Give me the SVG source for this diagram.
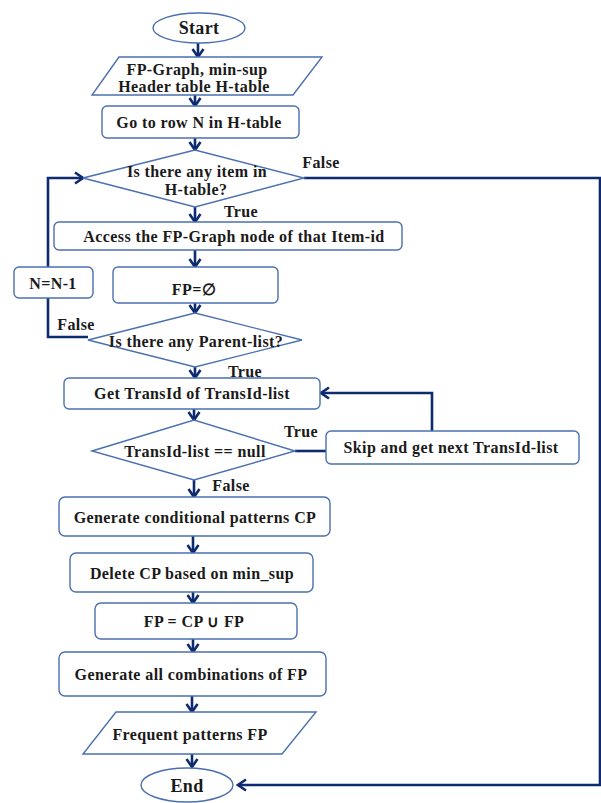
<svg xmlns="http://www.w3.org/2000/svg" width="601" height="803" viewBox="0 0 601 803">
  <style>
    .shape { fill: #ffffff; stroke: #4a70b0; stroke-width: 1.4; }
    .conn { fill: none; stroke: #0d2b6e; stroke-width: 2.6; }
    .lbl { font-family: "Liberation Serif", "Times New Roman", serif; font-weight: bold; font-size: 16px; letter-spacing: 0.4px; fill: #1a1a1a; text-anchor: middle; }
    .big { font-size: 18px; letter-spacing: 0.3px; }
  </style>
  <defs>
    <marker id="arrow" viewBox="-10 -7 12 14" markerWidth="12" markerHeight="14" refX="0" refY="0" orient="auto" markerUnits="userSpaceOnUse">
      <path d="M-8,-5.5 L0,0 L-8,5.5" fill="none" stroke="#0d2b6e" stroke-width="2.6"/>
    </marker>
  </defs>
  <rect width="601" height="803" fill="#ffffff"/>

  <!-- connectors -->
  <g id="connectors" class="conn" marker-end="url(#arrow)">
    <path d="M198,43 V57"/>
    <path d="M195,95 V106"/>
    <path d="M195,138 V150"/>
    <path d="M195,207 V222"/>
    <path d="M195,250 V267"/>
    <path d="M195,303 V313"/>
    <path d="M195,367 V378"/>
    <path d="M194,409 V420"/>
    <path d="M194,480 V497"/>
    <path d="M193,536 V553"/>
    <path d="M193,592 V603"/>
    <path d="M193,639 V652"/>
    <path d="M192,696 V712"/>
    <path d="M192,754 V767"/>
    <!-- no more items: jump to End -->
    <path d="M304,178 H600 V785 H238"/>
    <!-- no parent list: step N and loop back -->
    <path d="M88,337 H48 V298" marker-end="none"/>
    <path d="M48,267 V178 H83"/>
    <!-- TransId-list null: skip and fetch next -->
    <path d="M295,451 H326" marker-end="none"/>
    <path d="M432,431 V393 H321"/>
  </g>

  <g id="start">
    <ellipse class="shape" cx="199" cy="28" rx="46" ry="15"/>
    <text class="lbl big" x="199" y="34">Start</text>
  </g>

  <g id="input">
    <polygon class="shape" points="119,57 322,57 293,95 92,95"/>
    <text class="lbl" x="197" y="75">FP-Graph, min-sup</text>
    <text class="lbl" x="194" y="92">Header table H-table</text>
  </g>

  <g id="goto-row">
    <rect class="shape" x="102" y="106" width="197" height="32" rx="5"/>
    <text class="lbl" x="199" y="128">Go to row N in H-table</text>
  </g>

  <g id="any-item">
    <polygon class="shape" points="83,178 195,150 304,178 195,207"/>
    <text class="lbl" x="197" y="177">Is there any item in</text>
    <text class="lbl" x="196" y="195">H-table?</text>
    <text class="lbl" x="321" y="168">False</text>
    <text class="lbl" x="241" y="217">True</text>
  </g>

  <g id="access-node">
    <rect class="shape" x="54" y="222" width="348" height="28" rx="5"/>
    <text class="lbl" x="234" y="242">Access the FP-Graph node of that Item-id</text>
  </g>

  <g id="fp-empty">
    <rect class="shape" x="113" y="267" width="165" height="36" rx="5"/>
    <text class="lbl" x="194" y="295">FP=∅</text>
  </g>

  <g id="decrement-n">
    <rect class="shape" x="14" y="267" width="79" height="31" rx="5"/>
    <text class="lbl" x="53" y="289">N=N-1</text>
  </g>

  <g id="any-parent">
    <polygon class="shape" points="88,340 195,313 302,340 195,367"/>
    <text class="lbl" x="196" y="347">Is there any Parent-list?</text>
    <text class="lbl" x="76" y="330">False</text>
    <text class="lbl" x="245" y="377">True</text>
  </g>

  <g id="get-transid">
    <rect class="shape" x="64" y="378" width="256" height="31" rx="5"/>
    <text class="lbl" x="192" y="399">Get TransId of TransId-list</text>
  </g>

  <g id="transid-null">
    <polygon class="shape" points="92,451 194,420 295,451 194,480"/>
    <text class="lbl" x="195" y="457">TransId-list == null</text>
    <text class="lbl" x="301" y="437">True</text>
    <text class="lbl" x="231" y="491">False</text>
  </g>

  <g id="skip-next">
    <rect class="shape" x="326" y="431" width="253" height="33" rx="5"/>
    <text class="lbl" x="451" y="453">Skip and get next TransId-list</text>
  </g>

  <g id="gen-cp">
    <rect class="shape" x="59" y="497" width="271" height="39" rx="6"/>
    <text class="lbl" x="195" y="523">Generate conditional patterns CP</text>
  </g>

  <g id="delete-cp">
    <rect class="shape" x="70" y="553" width="243" height="39" rx="6"/>
    <text class="lbl" x="192" y="579">Delete CP based on min_sup</text>
  </g>

  <g id="union">
    <rect class="shape" x="95" y="603" width="202" height="36" rx="6"/>
    <text class="lbl" x="194" y="627">FP = CP ∪ FP</text>
  </g>

  <g id="gen-combos">
    <rect class="shape" x="59" y="652" width="267" height="44" rx="6"/>
    <text class="lbl" x="191" y="680">Generate all combinations of FP</text>
  </g>

  <g id="output">
    <polygon class="shape" points="116,712 316,712 282,754 83,754"/>
    <text class="lbl" x="190" y="740">Frequent patterns FP</text>
  </g>

  <g id="end">
    <ellipse class="shape" cx="187" cy="785" rx="46" ry="17"/>
    <text class="lbl big" x="187" y="792">End</text>
  </g>
</svg>
